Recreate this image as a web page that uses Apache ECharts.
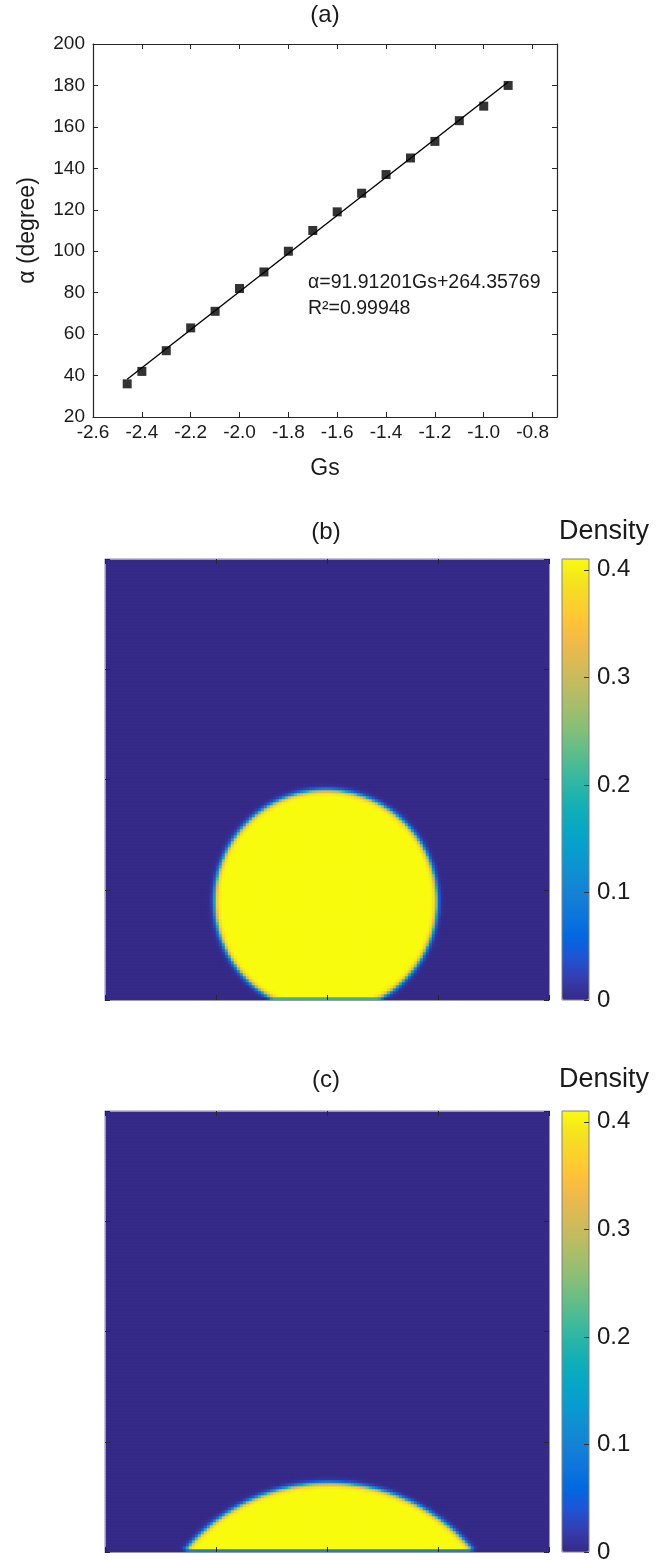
<!DOCTYPE html>
<html><head><meta charset="utf-8">
<script src="https://cdn.jsdelivr.net/npm/echarts@6/dist/echarts.min.js"></script>
<style>html,body{margin:0;padding:0;background:#fff}#c{width:666px;height:1560px}</style>
</head><body><div id="c"></div>
<script>
// ---------- Panel (a): contact angle vs Gs ----------
const gsValues    = [-2.46, -2.4, -2.3, -2.2, -2.1, -2.0, -1.9, -1.8, -1.7, -1.6, -1.5, -1.4, -1.3, -1.2, -1.1, -1.0, -0.9];
const alphaValues = [36, 42, 52, 63, 71, 82, 90, 100, 110, 119, 128, 137, 145, 153, 163, 170, 180];
const fitGs    = [-2.46, -0.9];
const fitAlpha = [38.25, 181.64];
const fitEquationText = 'α=91.91201Gs+264.35769';
const fitR2Text = 'R²=0.99948';
const gsAxisRange = [-2.6, -0.7];
const gsTickStep = 0.2;
const alphaAxisRange = [20, 200];
const alphaTickStep = 20;

// ---------- Panels (b), (c): density fields on a lattice ----------
const latticeCols = 148;
const latticeRows = 147;
const densityRange = [0, 0.41];           // gas .. liquid
const colorbarTicks = [0, 0.1, 0.2, 0.3, 0.4];
const interfaceWidth = [0.8];             // lattice cells
const dropB_center = [73.7, 33.0];        // (col, row) of circle centre
const dropB_radius = [37.0];
const dropB_wallFilm = [0.2];             // density in wall row under drop
const dropC_center = [74.7, -39.3];
const dropC_radius = [62.3];
const dropC_wallFilm = [0.1];
const parulaColors = ['#352a87', '#353dad', '#2053d4', '#0268e1', '#0d75dc', '#1481d6', '#108ed2', '#079ccf',
  '#06a7c6', '#0faeb9', '#25b5a9', '#42bb98', '#65be86', '#87bf77', '#a5be6b', '#c0bc60',
  '#d9ba56', '#f1b94a', '#ffc337', '#fad32a', '#f5e41d', '#f9fb0e'];

function dropletField(center, radius, film) {
  const gas = densityRange[0], liq = densityRange[1], w = interfaceWidth[0];
  const data = [];
  const baseHalf = Math.sqrt(Math.max(0, radius * radius - (1 - center[1]) * (1 - center[1])));
  for (let j = 0; j < latticeRows; j++) {
    for (let i = 0; i < latticeCols; i++) {
      const x = i + 0.5, y = j + 0.5;
      let v;
      if (j === 0) {
        const s = 0.5 * (1 - Math.tanh((Math.abs(x - center[0]) - baseHalf) / w));
        v = gas + (film - gas) * s;
      } else {
        const d = Math.hypot(x - center[0], y - center[1]);
        v = gas + (liq - gas) * 0.5 * (1 - Math.tanh((d - radius) / w));
      }
      data.push([i, j, +v.toFixed(4)]);
    }
  }
  return data;
}
const fieldB = dropletField(dropB_center, dropB_radius[0], dropB_wallFilm[0]);
const fieldC = dropletField(dropC_center, dropC_radius[0], dropC_wallFilm[0]);
const colCats = Array.from({length: latticeCols}, (_, i) => i);
const rowCats = Array.from({length: latticeRows}, (_, i) => i);

const FONT = '"Liberation Sans", Arial, Helvetica, sans-serif';
const TXT = '#1a1a1a';
const AX = '#262626';

const A = {left: 93, top: 44, width: 464, height: 373};
const B = {left: 105, top: 559, width: 444, height: 441};
const C = {left: 105, top: 1111, width: 444, height: 441};
const CBW = 27, CBX = 562;

function grid(r, extra) { return Object.assign({left: r.left, top: r.top, width: r.width, height: r.height, containLabel: false, outerBoundsMode: 'none'}, extra || {}); }

const inTick = (color) => ({show: true, inside: true, length: 5, lineStyle: {color, width: 1}});

function frameAxis(gridIndex, position) {
  return {
    type: 'value', gridIndex, position, min: 0, max: 4, interval: 1, z: 10,
    axisLine: {show: true, onZero: false, lineStyle: {color: '#9a9a9a', width: 1}},
    axisTick: inTick('#262626'),
    axisLabel: {show: false}, splitLine: {show: false}
  };
}
function hiddenCat(gridIndex, data) {
  return {type: 'category', gridIndex, data, show: false, boundaryGap: true, axisLine: {onZero: false}};
}
function cbarY(gridIndex) {
  return {
    type: 'value', gridIndex, position: 'right', min: densityRange[0], max: densityRange[1], interval: 0.1, z: 12,
    axisLine: {show: false, onZero: false},
    axisTick: inTick('#333'),
    axisLabel: {show: true, margin: 8, fontFamily: FONT, fontSize: 24, color: TXT, showMaxLabel: false,
      padding: [6, 0, 0, 0],
      formatter: v => (v > 0.405 ? '' : (Math.abs(v) < 1e-9 ? '0' : v.toFixed(1)))},
    splitLine: {show: false}
  };
}

const option = {
  animation: false,
  backgroundColor: '#fff',
  grid: [
    grid(A),
    grid(B),
    grid(B),
    grid(C),
    grid(C),
    grid({left: CBX, top: B.top, width: CBW, height: B.height}, {show: true, borderColor: '#808080', borderWidth: 1, backgroundColor: 'transparent', z: 10}),
    grid({left: CBX, top: C.top, width: CBW, height: C.height}, {show: true, borderColor: '#808080', borderWidth: 1, backgroundColor: 'transparent', z: 10})
  ],
  xAxis: [
    {type: 'value', gridIndex: 0, position: 'bottom', min: gsAxisRange[0], max: gsAxisRange[1], interval: gsTickStep,
      name: 'Gs', nameLocation: 'middle', nameGap: 40, nameTextStyle: {fontFamily: FONT, fontSize: 23, color: TXT},
      axisLine: {show: true, onZero: false, lineStyle: {color: AX, width: 1.2}},
      axisTick: inTick(AX),
      axisLabel: {fontFamily: FONT, fontSize: 19, color: TXT, margin: 6, showMaxLabel: false,
        formatter: v => (v > -0.75 ? '' : v.toFixed(1))},
      splitLine: {show: false}},
    {type: 'value', gridIndex: 0, position: 'top', min: gsAxisRange[0], max: gsAxisRange[1], interval: gsTickStep,
      axisLine: {show: true, onZero: false, lineStyle: {color: AX, width: 1.2}},
      axisTick: inTick(AX),
      axisLabel: {show: false}, splitLine: {show: false}},
    hiddenCat(1, colCats),
    frameAxis(2, 'bottom'),
    frameAxis(2, 'top'),
    hiddenCat(3, colCats),
    frameAxis(4, 'bottom'),
    frameAxis(4, 'top'),
    {type: 'value', gridIndex: 5, min: 0, max: 1, show: false, axisLine: {onZero: false}},
    {type: 'value', gridIndex: 6, min: 0, max: 1, show: false, axisLine: {onZero: false}}
  ],
  yAxis: [
    {type: 'value', gridIndex: 0, position: 'left', min: alphaAxisRange[0], max: alphaAxisRange[1], interval: alphaTickStep,
      name: 'α (degree)', nameLocation: 'middle', nameGap: 54, nameRotate: 90,
      nameTextStyle: {fontFamily: FONT, fontSize: 23, color: TXT},
      axisLine: {show: true, onZero: false, lineStyle: {color: AX, width: 1.2}},
      axisTick: inTick(AX),
      axisLabel: {fontFamily: FONT, fontSize: 19, color: TXT, margin: 8},
      splitLine: {show: false}},
    {type: 'value', gridIndex: 0, position: 'right', min: alphaAxisRange[0], max: alphaAxisRange[1], interval: alphaTickStep,
      axisLine: {show: true, onZero: false, lineStyle: {color: AX, width: 1.2}},
      axisTick: inTick(AX),
      axisLabel: {show: false}, splitLine: {show: false}},
    hiddenCat(1, rowCats),
    frameAxis(2, 'left'),
    frameAxis(2, 'right'),
    hiddenCat(3, rowCats),
    frameAxis(4, 'left'),
    frameAxis(4, 'right'),
    cbarY(5),
    cbarY(6)
  ],
  visualMap: [
    {type: 'continuous', seriesIndex: 2, min: densityRange[0], max: densityRange[1], calculable: false, show: true,
      orient: 'vertical', left: CBX, top: B.top, itemWidth: CBW, itemHeight: B.height, padding: 0, text: null, showLabel: false,
      inRange: {color: parulaColors}},
    {type: 'continuous', seriesIndex: 3, min: densityRange[0], max: densityRange[1], calculable: false, show: true,
      orient: 'vertical', left: CBX, top: C.top, itemWidth: CBW, itemHeight: C.height, padding: 0, text: null, showLabel: false,
      inRange: {color: parulaColors}}
  ],
  series: [
    {type: 'line', xAxisIndex: 0, yAxisIndex: 0, data: fitGs.map((g, i) => [g, fitAlpha[i]]),
      showSymbol: false, symbol: 'none', lineStyle: {color: '#000', width: 1.4}, silent: true, z: 2},
    {type: 'scatter', xAxisIndex: 0, yAxisIndex: 0, data: gsValues.map((g, i) => [g, alphaValues[i]]),
      symbol: 'rect', symbolSize: 9, itemStyle: {color: '#000'}, silent: true, z: 3},
    {type: 'heatmap', xAxisIndex: 2, yAxisIndex: 2, data: fieldB, progressive: 0, silent: true, z: 1,
      itemStyle: {borderWidth: 0}, emphasis: {disabled: true}},
    {type: 'heatmap', xAxisIndex: 5, yAxisIndex: 5, data: fieldC, progressive: 0, silent: true, z: 1,
      itemStyle: {borderWidth: 0}, emphasis: {disabled: true}}
  ],
  graphic: [
    {type: 'text', x: 325, y: 15, style: {text: '(a)', fill: TXT, font: '24px ' + FONT, textAlign: 'center', textVerticalAlign: 'middle'}},
    {type: 'text', x: 308, y: 283, style: {text: fitEquationText, fill: TXT, font: '19.5px ' + FONT, textAlign: 'left', textVerticalAlign: 'middle'}},
    {type: 'text', x: 308, y: 309, style: {text: fitR2Text, fill: TXT, font: '19.5px ' + FONT, textAlign: 'left', textVerticalAlign: 'middle'}},
    {type: 'text', x: 326, y: 532, style: {text: '(b)', fill: TXT, font: '24px ' + FONT, textAlign: 'center', textVerticalAlign: 'middle'}},
    {type: 'text', x: 559, y: 532, style: {text: 'Density', fill: TXT, font: '27px ' + FONT, textAlign: 'left', textVerticalAlign: 'middle'}},
    {type: 'text', x: 326, y: 1080, style: {text: '(c)', fill: TXT, font: '24px ' + FONT, textAlign: 'center', textVerticalAlign: 'middle'}},
    {type: 'text', x: 559, y: 1080, style: {text: 'Density', fill: TXT, font: '27px ' + FONT, textAlign: 'left', textVerticalAlign: 'middle'}}
  ]
};

const chart = echarts.init(document.getElementById('c'), null, {renderer: 'canvas'});
chart.setOption(option);
</script></body></html>
